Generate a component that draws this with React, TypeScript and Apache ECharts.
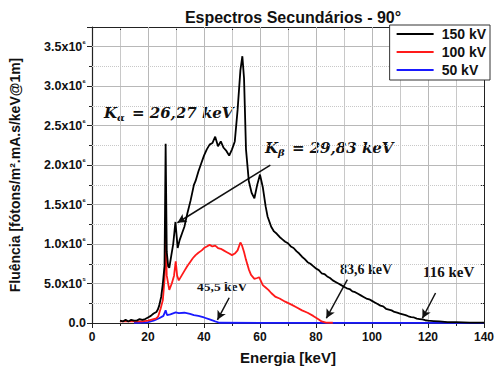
import React, { useEffect, useRef } from "react";
import * as echarts from "echarts";

const MEGA = 1e6;

const energy150 = [10, 11, 12, 13, 14, 15, 16, 17, 18, 19, 20, 21, 22, 23, 23.5, 24, 24.7, 25.3, 25.9, 26.3, 26.7, 27.2, 27.6, 28.3, 29, 29.4, 29.8, 30.6, 31.3, 32.2, 33, 34, 35.2, 36.4, 37, 38, 39, 40, 41, 42, 43, 44, 45, 46, 47, 48, 49, 50, 51, 52, 53, 53.7, 54.3, 55, 56, 57, 58, 59, 60, 61, 62, 62.7, 64, 65, 66, 67, 68, 69, 70, 71, 72, 73, 74, 75, 76, 77, 78, 79, 80, 81, 82, 83, 84, 85, 86, 87, 88, 89, 90, 91, 92, 93, 94, 95, 96, 97, 98, 99, 100, 101, 102, 103, 104, 105, 106, 107, 108, 109, 110, 111, 112, 113, 114, 115, 116, 117, 118, 119, 120, 122, 124, 127, 130, 135, 140];
const flux150 = [0.03, 0.02, 0.04, 0.02, 0.04, 0.03, 0.03, 0.05, 0.04, 0.05, 0.07, 0.09, 0.12, 0.14, 0.17, 0.22, 0.33, 0.5, 0.72, 2.27, 0.9, 0.72, 0.7, 0.85, 1.0, 1.14, 1.28, 0.95, 1.05, 1.14, 1.22, 1.38, 1.55, 1.75, 1.8, 1.92, 2.02, 2.12, 2.2, 2.26, 2.28, 2.36, 2.24, 2.3, 2.22, 2.18, 2.12, 2.2, 2.3, 2.7, 3.2, 3.38, 3.1, 2.2, 1.8, 1.65, 1.58, 1.75, 1.88, 1.72, 1.48, 1.35, 1.22, 1.16, 1.13, 1.09, 1.06, 1.03, 1.01, 0.97, 0.95, 0.91, 0.88, 0.84, 0.81, 0.77, 0.75, 0.72, 0.69, 0.67, 0.63, 0.62, 0.59, 0.57, 0.54, 0.52, 0.5, 0.48, 0.46, 0.44, 0.43, 0.4, 0.39, 0.37, 0.35, 0.33, 0.31, 0.3, 0.28, 0.26, 0.24, 0.22, 0.21, 0.18, 0.17, 0.16, 0.14, 0.13, 0.12, 0.11, 0.1, 0.085, 0.075, 0.07, 0.055, 0.05, 0.045, 0.035, 0.03, 0.025, 0.02, 0.012, 0.01, 0.006, 0.005];

const energy100 = [10, 14, 18, 20, 22, 23, 23.6, 24.5, 25.3, 25.9, 26.3, 26.7, 27.6, 28.5, 29.3, 29.9, 30.4, 31, 32, 33, 34, 35.2, 36, 37, 38, 39.2, 40, 41, 42, 43, 44, 45, 46, 47, 48, 49, 50, 51, 52, 53, 53.6, 54.3, 55, 56, 56.8, 58, 59, 59.7, 61, 62, 63, 64, 65.6, 67, 69, 71.4, 73, 75, 77, 79, 81, 82, 83.6, 86];
const flux100 = [0.02, 0.02, 0.02, 0.03, 0.05, 0.06, 0.08, 0.18, 0.29, 0.55, 1.11, 0.6, 0.42, 0.5, 0.6, 0.78, 0.6, 0.54, 0.6, 0.66, 0.72, 0.78, 0.82, 0.86, 0.89, 0.92, 0.95, 0.97, 0.99, 0.97, 0.98, 0.95, 0.94, 0.92, 0.9, 0.88, 0.86, 0.88, 0.92, 1.02, 0.98, 0.9, 0.8, 0.68, 0.61, 0.56, 0.57, 0.58, 0.48, 0.45, 0.42, 0.38, 0.33, 0.31, 0.27, 0.23, 0.2, 0.16, 0.13, 0.09, 0.045, 0.02, 0.005, 0.003];

const energy50 = [15, 18, 19, 20, 22, 24, 25.5, 26.3, 26.8, 28, 29.9, 31, 33, 35, 36.4, 38, 40, 42, 44, 45.5, 60, 80, 100, 120, 140];
const flux50 = [0.003, 0.004, 0.006, 0.012, 0.03, 0.06, 0.09, 0.16, 0.1, 0.11, 0.135, 0.125, 0.13, 0.115, 0.1, 0.09, 0.07, 0.045, 0.02, 0.003, 0.002, 0.002, 0.002, 0.002, 0.002];

const seriesNames = ["150 kV", "100 kV", "50 kV"];
const seriesColors = ["#000000", "#ff1a1a", "#1a1aff"];

// grid line positions (axis values)
const xMajorGrid = [20, 40, 60, 80, 100, 120];
const xMinorGrid = [10, 30, 50, 70, 90, 110, 130];
const yMajorGrid = [0.5, 1.0, 1.5, 2.0, 2.5, 3.0, 3.5];
const yMinorGrid = [0.25, 0.75, 1.25, 1.75, 2.25, 2.75, 3.25];

// arrows: [fromE, fromFlux, toE, toFlux] (flux in 1e6)
const arrows = [
  [63.7, 2.0, 30.5, 1.27],
  [49, 0.32, 44.8, 0.04],
  [91.2, 0.55, 83.7, 0.06],
  [122.7, 0.38, 118, 0.06],
];

const sup: Record<string, string> = { "0": "⁰", "1": "¹", "2": "²", "3": "³", "4": "⁴", "5": "⁵", "6": "⁶", "7": "⁷", "8": "⁸", "9": "⁹" };

function fmtY(v: number): string {
  if (v === 0) return "{m|0.0}";
  const e = Math.floor(Math.log10(v) + 1e-9);
  const m = v / Math.pow(10, e);
  return "{m|" + m.toFixed(1) + "x10}{s|" + String(e).split("").map((c) => sup[c]).join("") + "}";
}

function pairs(xs: number[], ys: number[]) {
  return xs.map((x, i) => [x, ys[i] * MEGA]);
}

export default function App() {
  const ref = useRef<HTMLDivElement>(null);
  useEffect(() => {
    if (!ref.current) return;
    const chart = echarts.init(ref.current, undefined, { renderer: "svg" });
    const font = "'Liberation Sans', Arial, sans-serif";
    const mathFont = "'DejaVu Serif', 'Liberation Serif', serif";
    const datasets = [pairs(energy150, flux150), pairs(energy100, flux100), pairs(energy50, flux50)];
    const kRich = {
      k: { fontFamily: mathFont, fontStyle: "italic", fontWeight: "bold", fontSize: 15, fill: "#111" },
      sub: { fontFamily: mathFont, fontStyle: "italic", fontWeight: "bold", fontSize: 10, fill: "#111", padding: [9, 2, 0, 0] },
    };
    const majorStyle = { color: "#b8b8b8", width: 1, type: "solid" };
    const minorStyle = { color: "#c8c8c8", width: 1, type: "dotted" };
    const gridLines = [
      ...xMajorGrid.map((v) => ({ xAxis: v, lineStyle: majorStyle })),
      ...xMinorGrid.map((v) => ({ xAxis: v, lineStyle: minorStyle })),
      ...yMajorGrid.map((v) => ({ yAxis: v * MEGA, lineStyle: majorStyle })),
      ...yMinorGrid.map((v) => ({ yAxis: v * MEGA, lineStyle: minorStyle })),
    ];
    chart.setOption({
      animation: false,
      title: {
        text: "Espectros Secundários - 90°",
        left: 288,
        textAlign: "center",
        top: 4,
        textStyle: { fontFamily: font, fontWeight: "bold", fontSize: 16, color: "#111" },
      },
      legend: {
        data: seriesNames,
        orient: "vertical",
        right: 7,
        top: 25,
        icon: "rect",
        backgroundColor: "#fff",
        borderColor: "#333",
        borderWidth: 1,
        borderRadius: 0,
        padding: [2, 4, 3, 7],
        itemGap: 4,
        itemWidth: 37,
        itemHeight: 2,
        z: 20,
        textStyle: { fontFamily: font, fontWeight: "bold", fontSize: 14, color: "#111", padding: [0, 0, 0, 3] },
      },
      grid: { left: 86, right: 11, top: 27, bottom: 49 },
      xAxis: [
        {
          type: "value",
          min: 0,
          max: 140,
          interval: 20,
          name: "Energia [keV]",
          nameLocation: "middle",
          nameGap: 27,
          nameTextStyle: { fontFamily: font, fontWeight: "bold", fontSize: 15, color: "#111" },
          axisLine: { show: true, onZero: false, lineStyle: { color: "#222", width: 1.2 } },
          axisTick: { show: true, length: 5, lineStyle: { color: "#222" } },
          minorTick: { show: true, splitNumber: 2, length: 3, lineStyle: { color: "#222" } },
          axisLabel: { fontFamily: font, fontWeight: "bold", fontSize: 12, color: "#111", margin: 8 },
          splitLine: { show: true, lineStyle: majorStyle },
          minorSplitLine: { show: true, lineStyle: minorStyle },
        },
        {
          type: "value",
          position: "top",
          min: 0,
          max: 140,
          interval: 20,
          axisLine: { show: true, onZero: false, lineStyle: { color: "#222" } },
          axisTick: { show: true, inside: true, length: 5, lineStyle: { color: "#222" } },
          minorTick: { show: true, splitNumber: 2, length: 3, lineStyle: { color: "#222" } },
          axisLabel: { show: false },
          splitLine: { show: false },
          minorSplitLine: { show: false },
        },
      ],
      yAxis: [
        {
          type: "value",
          min: 0,
          max: 3.75e6,
          interval: 0.5e6,
          name: "Fluência [fótons/m².mA.s/keV@1m]",
          nameLocation: "middle",
          nameGap: 70,
          nameTextStyle: { fontFamily: font, fontWeight: "bold", fontSize: 14, color: "#111" },
          axisLine: { show: true, onZero: false, lineStyle: { color: "#222", width: 1.2 } },
          axisTick: { show: true, length: 5, lineStyle: { color: "#222" } },
          minorTick: { show: true, splitNumber: 2, length: 3, lineStyle: { color: "#222" } },
          axisLabel: {
            showMaxLabel: false,
            margin: 6,
            formatter: fmtY,
            color: "#111",
            rich: {
              m: { fontFamily: font, fontWeight: "bold", fontSize: 12.5, color: "#111" },
              s: { fontFamily: font, fontWeight: "bold", fontSize: 8, color: "#111", padding: [0, 0, 7, 0] },
            },
          },
          splitLine: { show: true, lineStyle: majorStyle },
          minorSplitLine: { show: true, lineStyle: minorStyle },
        },
        {
          type: "value",
          position: "right",
          min: 0,
          max: 3.75e6,
          interval: 0.5e6,
          axisLine: { show: true, onZero: false, lineStyle: { color: "#222" } },
          axisTick: { show: true, inside: true, length: 5, lineStyle: { color: "#222" } },
          minorTick: { show: true, splitNumber: 2, length: 3, lineStyle: { color: "#222" } },
          axisLabel: { show: false },
          splitLine: { show: false },
          minorSplitLine: { show: false },
        },
      ],
      series: [
        {
          name: "grid",
          type: "line",
          data: [[0, 0]],
          showSymbol: false,
          symbol: "none",
          z: 1,
          lineStyle: { opacity: 0 },
          markLine: {
            silent: true,
            symbol: ["none", "none"],
            label: { show: false },
            emphasis: { disabled: true },
            data: gridLines,
          },
        },
        ...seriesNames.map((name, i) => ({
          name,
          type: "line",
          data: datasets[i],
          showSymbol: false,
          symbol: "none",
          z: 10 - i,
          lineStyle: { color: seriesColors[i], width: 1.8 },
          itemStyle: { color: seriesColors[i] },
          markLine:
            i === 0
              ? {
                  silent: true,
                  symbol: ["none", "arrow"],
                  symbolSize: [7, 9],
                  label: { show: false },
                  lineStyle: { color: "#111", width: 1.5, type: "solid" },
                  data: arrows.map((a) => [
                    { coord: [a[0], a[1] * MEGA] },
                    { coord: [a[2], a[3] * MEGA] },
                  ]),
                }
              : undefined,
        })),
      ],
      graphic: [
        {
          type: "text",
          left: 104,
          top: 105,
          style: { text: "{k|K}{sub|α}{k| = 26,27 keV}", rich: kRich },
        },
        {
          type: "text",
          left: 265,
          top: 140,
          style: { text: "{k|K}{sub|β}{k| = 29,83 keV}", rich: kRich },
        },
        {
          type: "text",
          left: 197,
          top: 279,
          style: { text: "45,5 keV", font: "bold 13.5px 'Liberation Serif', serif", fill: "#111" },
        },
        {
          type: "text",
          left: 340,
          top: 262,
          style: { text: "83,6 keV", font: "bold 14px 'Liberation Serif', serif", fill: "#111" },
        },
        {
          type: "text",
          left: 423,
          top: 264,
          style: { text: "116 keV", font: "bold 15px 'Liberation Serif', serif", fill: "#111" },
        },
      ],
    });
    return () => chart.dispose();
  }, []);
  return <div ref={ref} style={{ width: 497, height: 372, position: "absolute", left: 0, top: 0, background: "#fff" }} />;
}
